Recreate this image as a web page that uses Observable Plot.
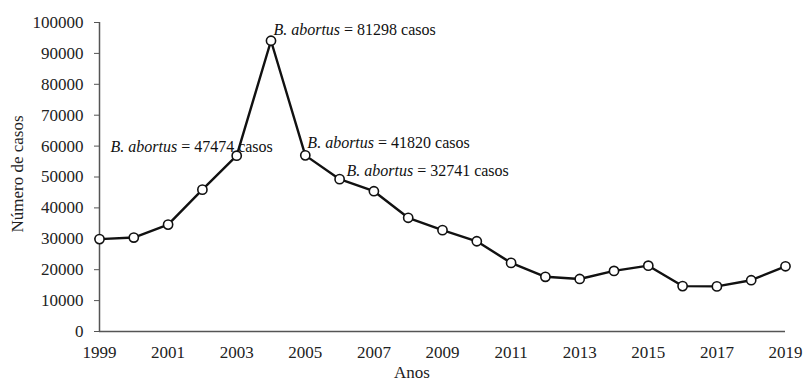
<!DOCTYPE html>
<html>
<head>
<meta charset="utf-8">
<script src="https://cdn.jsdelivr.net/npm/d3@7"></script>
<script src="https://cdn.jsdelivr.net/npm/@observablehq/plot@0.6"></script>
<style>
  html, body { margin: 0; padding: 0; background: #fff; }
  #chart svg { display: block; }
  #chart svg text { font-family: "Liberation Serif", "Times New Roman", serif; }
</style>
</head>
<body>
<div id="chart"></div>
<script>
const years = [1999, 2000, 2001, 2002, 2003, 2004, 2005, 2006, 2007, 2008, 2009,
               2010, 2011, 2012, 2013, 2014, 2015, 2016, 2017, 2018, 2019];
const cases = [29900, 30400, 34600, 45900, 56900, 94100, 57000, 49300, 45400, 36800, 32800,
               29200, 22200, 17700, 17000, 19600, 21300, 14700, 14600, 16600, 21100];
const xTicks = [1999, 2001, 2003, 2005, 2007, 2009, 2011, 2013, 2015, 2017, 2019];
const yTicks = [0, 10000, 20000, 30000, 40000, 50000, 60000, 70000, 80000, 90000, 100000];
const annX = [2004.07, 1999.32, 2005.06, 2006.2];
const annY = [97600, 59900, 61200, 52100];
const annSpecies = ["B. abortus", "B. abortus", "B. abortus", "B. abortus"];
const annRest = [" = 81298 casos", " = 47474 casos", " = 41820 casos", " = 32741 casos"];

const data = years.map((y, i) => ({year: y, cases: cases[i]}));
const ann = annX.map((x, i) => ({x, y: annY[i], label: annSpecies[i] + annRest[i], sp: annSpecies[i], rest: annRest[i]}));

const serif = "Liberation Serif";
const axisColor = "#555";
const chart = Plot.plot({
  width: 805,
  height: 385,
  marginLeft: 99,
  marginRight: 20,
  marginTop: 22,
  marginBottom: 54,
  style: {fontFamily: serif, fontSize: "17px", color: "#222", background: "#fff"},
  x: {domain: [1999, 2019]},
  y: {domain: [0, 100000]},
  marks: [
    Plot.axisY({ticks: yTicks, tickSize: 5, tickPadding: 11, tickFormat: d => String(d), stroke: axisColor, fill: "#222", label: null, fontSize: 17, fontFamily: serif, fontVariant: "normal"}),
    Plot.axisX({ticks: xTicks, tickSize: 0, tickPadding: 14, tickFormat: d => String(d), fill: "#222", label: null, fontSize: 17, fontFamily: serif, fontVariant: "normal"}),
    Plot.ruleX([1999], {stroke: axisColor, strokeWidth: 1.5}),
    Plot.ruleY([0], {stroke: axisColor, strokeWidth: 1.5}),
    Plot.line(data, {x: "year", y: "cases", stroke: "#111", strokeWidth: 2.4}),
    Plot.dot(data, {x: "year", y: "cases", r: 4.6, fill: "white", stroke: "#111", strokeWidth: 1.6}),
    Plot.text(ann, {x: "x", y: "y", text: "label", textAnchor: "start", fill: "#111", fontSize: 16, fontFamily: serif, className: "ann"})
  ]
});

// Italicise species name within annotation labels
const ns = "http://www.w3.org/2000/svg";
chart.querySelectorAll(".ann text").forEach((t) => {
  const full = t.textContent;
  const a = ann.find(d => d.label === full);
  if (!a) return;
  t.textContent = "";
  const s1 = document.createElementNS(ns, "tspan");
  s1.setAttribute("font-style", "italic");
  s1.textContent = a.sp;
  const s2 = document.createElementNS(ns, "tspan");
  s2.textContent = a.rest;
  t.appendChild(s1); t.appendChild(s2);
});

// Axis titles
const yt = document.createElementNS(ns, "text");
yt.setAttribute("transform", "translate(19,174) rotate(-90)");
yt.setAttribute("text-anchor", "middle");
yt.setAttribute("dominant-baseline", "middle");
yt.setAttribute("font-size", "17");
yt.setAttribute("fill", "#222");
yt.textContent = "Número de casos";
chart.appendChild(yt);
const xt = document.createElementNS(ns, "text");
xt.setAttribute("x", 412);
xt.setAttribute("y", 374);
xt.setAttribute("text-anchor", "middle");
xt.setAttribute("dominant-baseline", "middle");
xt.setAttribute("font-size", "17");
xt.setAttribute("fill", "#222");
xt.textContent = "Anos";
chart.appendChild(xt);

document.getElementById("chart").appendChild(chart);
</script>
</body>
</html>
